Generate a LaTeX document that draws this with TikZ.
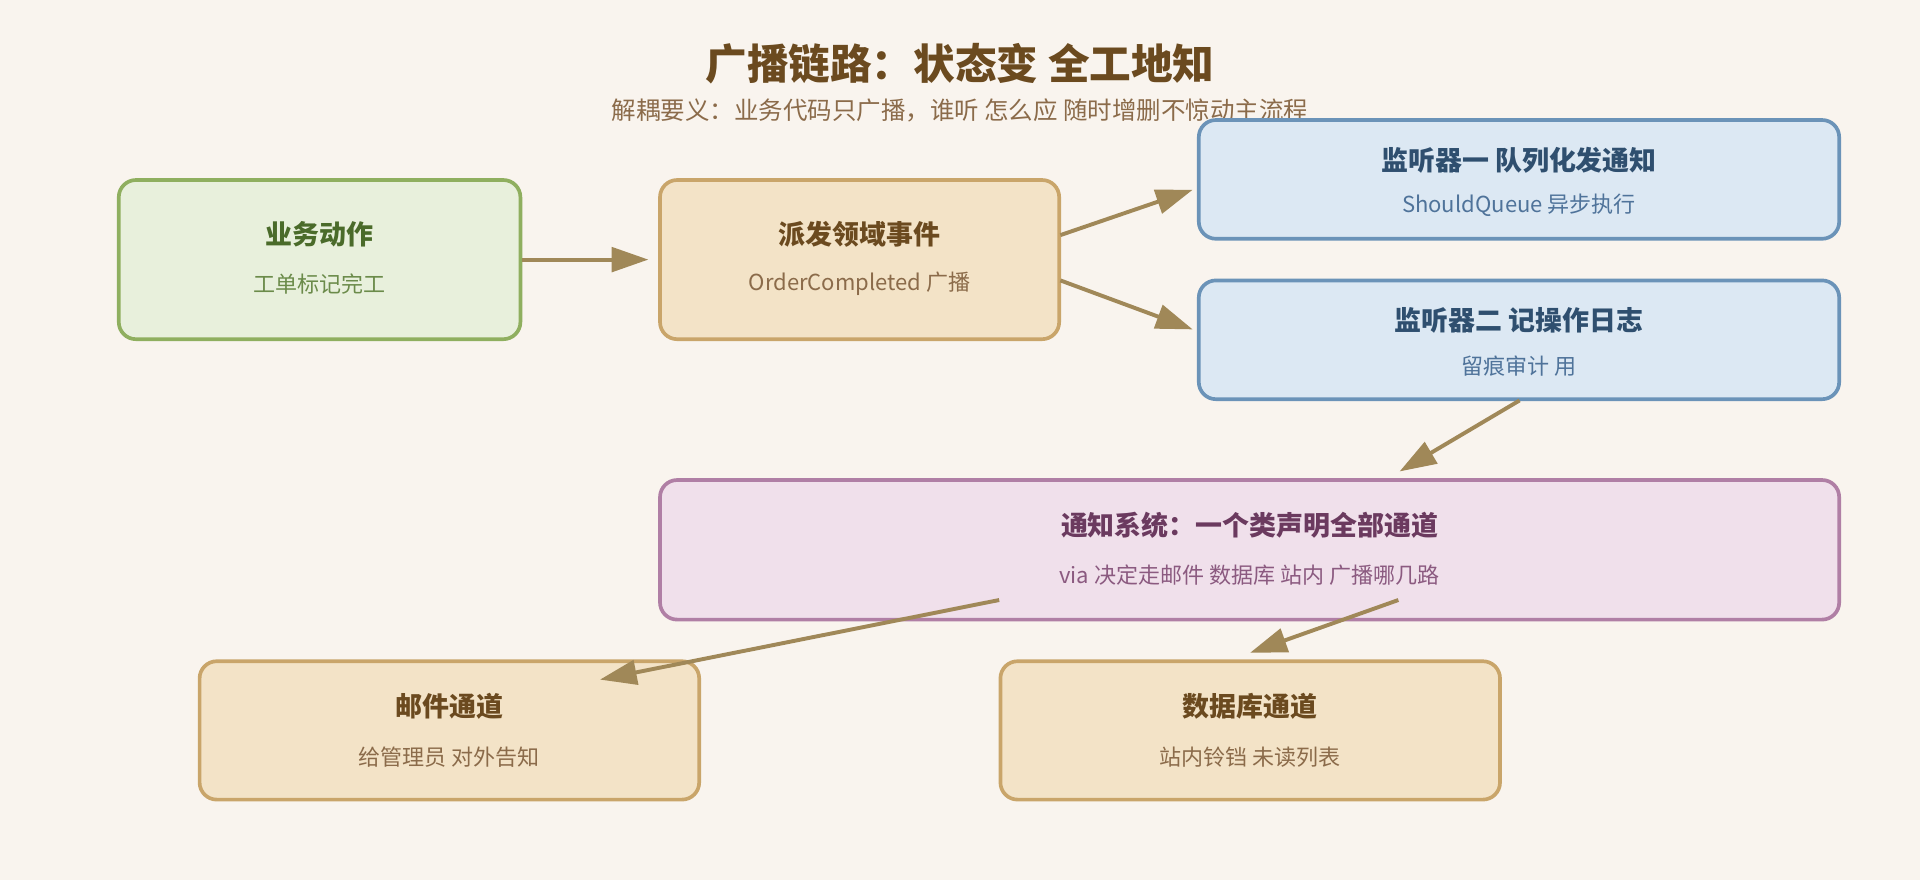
\documentclass[tikz,border=0pt]{standalone}
\usepackage{fontspec}
\setmainfont{Noto Sans CJK SC}
\usetikzlibrary{arrows.meta}
\definecolor{bg}{HTML}{F9F4EE}
\definecolor{arr}{HTML}{A08858}
\definecolor{gf}{HTML}{E8F0DC}\definecolor{gs}{HTML}{8FAF5F}\definecolor{gt}{HTML}{4A6B2A}\definecolor{gu}{HTML}{6B8B4A}
\definecolor{of}{HTML}{F3E3C7}\definecolor{os}{HTML}{C9A56A}\definecolor{ot}{HTML}{6B4A1F}\definecolor{ou}{HTML}{8B6B4A}
\definecolor{bf}{HTML}{DCE8F3}\definecolor{bs}{HTML}{6B93B8}\definecolor{bt}{HTML}{2F4F6F}\definecolor{bu}{HTML}{4F739A}
\definecolor{pf}{HTML}{F0E0EB}\definecolor{ps}{HTML}{B07FA5}\definecolor{pt}{HTML}{6B3A5F}\definecolor{pu}{HTML}{8B5A80}
\tikzset{
 box/.style={draw, line width=1.5pt, rounded corners=7pt, inner sep=0pt},
 ttl/.style={font=\bfseries\fontsize{11}{13}\selectfont},
 sub/.style={font=\fontsize{9}{11}\selectfont},
 con/.style={draw=arr, line width=1.6pt, -{Triangle[length=15pt,width=10pt]}}
}
\begin{document}
\begin{tikzpicture}[x=0.5pt,y=-0.5pt]
\fill[bg] (0,0) rectangle (1568,719);
\useasboundingbox (0,0) rectangle (1568,719);
\node[font=\bfseries\fontsize{17}{20}\selectfont, text=ot] (title) at (784,52) {广播链路：状态变 全工地知};
\node[font=\fontsize{10}{12}\selectfont, text=ou] (subt) at (784,90) {解耦要义：业务代码只广播，谁听 怎么应 随时增删不惊动主流程};
% boxes
\node[box, draw=gs, fill=gf, minimum width=164pt, minimum height=65pt] (a) at (261,212) {};
\node[ttl,text=gt] at (261,191) {业务动作};
\node[sub,text=gu] at (261,232) {工单标记完工};
\node[box, draw=os, fill=of, minimum width=163pt, minimum height=65pt] (b) at (702,212) {};
\node[ttl,text=ot] at (702,191) {派发领域事件};
\node[sub,text=ou] at (702,232) {OrderCompleted 广播};
\node[box, draw=bs, fill=bf, minimum width=261.5pt, minimum height=48.5pt] (c) at (1240.5,146.5) {};
\node[ttl,text=bt] at (1240.5,131) {监听器一 队列化发通知};
\node[sub,text=bu] at (1240.5,168) {ShouldQueue 异步执行};
\node[box, draw=bs, fill=bf, minimum width=261.5pt, minimum height=48.5pt] (d) at (1240.5,277.5) {};
\node[ttl,text=bt] at (1240.5,262) {监听器二 记操作日志};
\node[sub,text=bu] at (1240.5,299) {留痕审计 用};
\node[box, draw=ps, fill=pf, minimum width=481.5pt, minimum height=57pt] (e) at (1020.5,449) {};
\node[ttl,text=pt] at (1020.5,429) {通知系统：一个类声明全部通道};
\node[sub,text=pu] at (1020.5,470) {via 决定走邮件 数据库 站内 广播哪几路};
\node[box, draw=os, fill=of, minimum width=204pt, minimum height=56.5pt] (f) at (367,596.5) {};
\node[ttl,text=ot] at (367,577) {邮件通道};
\node[sub,text=ou] at (367,618) {给管理员 对外告知};
\node[box, draw=os, fill=of, minimum width=204pt, minimum height=56.5pt] (g) at (1021,596.5) {};
\node[ttl,text=ot] at (1021,577) {数据库通道};
\node[sub,text=ou] at (1021,618) {站内铃铛 未读列表};
% connector points
\coordinate (b1) at (866,192); \coordinate (c1) at (974,155);
\coordinate (b2) at (866,229); \coordinate (d1) at (974,269);
\coordinate (d2) at (1241,327); \coordinate (e0) at (1143,385);
\coordinate (e1) at (816,490); \coordinate (f1) at (490,555);
\coordinate (e2) at (1142,490); \coordinate (g1) at (1021,533);
\draw[con] (a.east) -- ([xshift=-4pt]b.west);
\draw[con] (b1) -- (c1);
\draw[con] (b2) -- (d1);
\draw[con] (d2) -- (e0);
\draw[con] (e1) -- (f1);
\draw[con] (e2) -- (g1);
\end{tikzpicture}
\end{document}
